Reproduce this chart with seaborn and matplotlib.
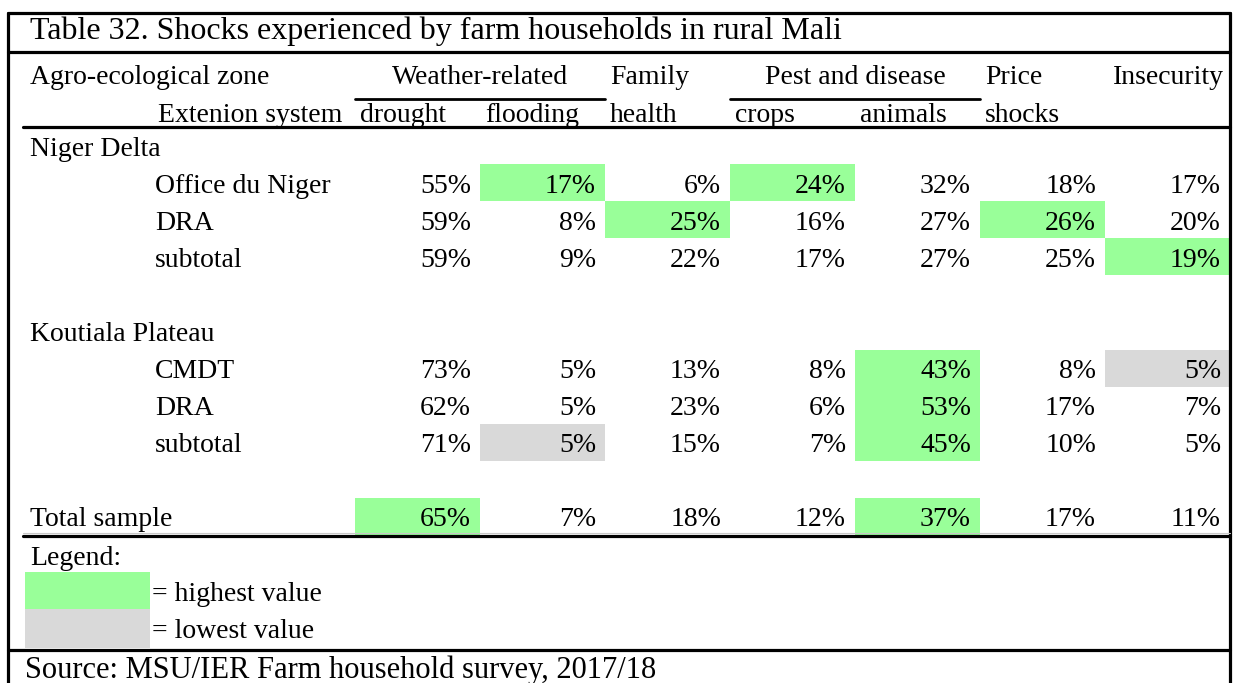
import numpy as np
import matplotlib
matplotlib.use("Agg")
import matplotlib.pyplot as plt
from matplotlib.colors import ListedColormap
from matplotlib.patches import Rectangle
import seaborn as sns

# Data (values in %)
title = "Table 32. Shocks experienced by farm households in rural Mali"
source = "Source: MSU/IER Farm household survey, 2017/18"

sub_cols = ["drought", "flooding", "health", "crops", "animals", "shocks", ""]
top_groups = [("Weather-related", 0, 2), ("Family", 2, 1), ("Pest and disease", 3, 2),
              ("Price", 5, 1), ("Insecurity", 6, 1)]

niger_rows = ["Office du Niger", "DRA", "subtotal"]
niger_vals = [[55, 17, 6, 24, 32, 18, 17],
              [59, 8, 25, 16, 27, 26, 20],
              [59, 9, 22, 17, 27, 25, 19]]
niger_mark = [[0, 1, 0, 1, 0, 0, 0],
              [0, 0, 1, 0, 0, 1, 0],
              [0, 0, 0, 0, 0, 0, 1]]

koutiala_rows = ["CMDT", "DRA", "subtotal"]
koutiala_vals = [[73, 5, 13, 8, 43, 8, 5],
                 [62, 5, 23, 6, 53, 17, 7],
                 [71, 5, 15, 7, 45, 10, 5]]
koutiala_mark = [[0, 0, 0, 0, 1, 0, -1],
                 [0, 0, 0, 0, 1, 0, 0],
                 [0, -1, 0, 0, 1, 0, 0]]

total_vals = [65, 7, 18, 12, 37, 17, 11]
total_mark = [1, 0, 0, 0, 1, 0, 0]

GREEN = "#99FF99"
GRAY = "#D9D9D9"

# build the table grid (group / blank rows have no values)
rows = [("Niger Delta", 0, None, None)]
rows += [(r, 1, v, m) for r, v, m in zip(niger_rows, niger_vals, niger_mark)]
rows += [("", 0, None, None), ("Koutiala Plateau", 0, None, None)]
rows += [(r, 1, v, m) for r, v, m in zip(koutiala_rows, koutiala_vals, koutiala_mark)]
rows += [("", 0, None, None), ("Total sample", 0, total_vals, total_mark)]

n_rows, n_cols = len(rows), len(sub_cols)
vals = np.full((n_rows, n_cols), np.nan)
marks = np.full((n_rows, n_cols), np.nan)
for i, (_, _, v, m) in enumerate(rows):
    if v is not None:
        vals[i] = v
        marks[i] = m

sns.set_theme(style="white")
plt.rcParams["font.family"] = ["Liberation Serif", "DejaVu Serif"]
plt.rcParams["text.color"] = "black"
FS = 20

W, H = 1233, 683
fig = plt.figure(figsize=(W / 100, H / 100), dpi=100)

# pixel layout of the numeric block
x0, x1 = 355, 1230
y0, y1 = 127, 535
col_w = (x1 - x0) / n_cols
row_h = (y1 - y0) / n_rows

hax = fig.add_axes([x0 / W, 1 - y1 / H, (x1 - x0) / W, (y1 - y0) / H])
sns.heatmap(marks, mask=np.isnan(vals), cmap=ListedColormap([GRAY, "#FFFFFF", GREEN]),
            vmin=-1.5, vmax=1.5, cbar=False, xticklabels=False, yticklabels=False,
            linewidths=0, ax=hax)
for i in range(n_rows):
    for j in range(n_cols):
        if not np.isnan(vals[i, j]):
            hax.text(j + 1 - 9 / col_w, i + 0.5 + 10 / row_h, f"{int(vals[i, j])}%",
                     ha="right", va="baseline", fontsize=FS, color="black")
hax.axis("off")

# overlay in pixel coordinates for lines and labels
bg = fig.add_axes([0, 0, 1, 1])
bg.set_xlim(0, W)
bg.set_ylim(H, 0)
bg.axis("off")

lw = 2.3
bg.plot([8, 8], [13, 700], color="black", lw=lw, clip_on=False)
bg.plot([1230, 1230], [13, 700], color="black", lw=lw, clip_on=False)
bg.plot([8, 1230], [13, 13], color="black", lw=lw)
bg.plot([8, 1230], [52, 52], color="black", lw=lw)
bg.plot([23, 1230], [127, 127], color="black", lw=lw)
bg.plot([23, 1230], [533, 533], color="#C8C8C8", lw=0.8)
bg.plot([23, 1230], [535.5, 535.5], color="black", lw=lw)
bg.plot([8, 1230], [650, 650], color="black", lw=lw)

bg.text(30, 39, title, fontsize=23, ha="left", va="baseline")

# header
bg.text(30, 84, "Agro-ecological zone", fontsize=FS, ha="left", va="baseline")
bg.text(158, 122, "Extenion system", fontsize=FS, ha="left", va="baseline")
for name, start, span in top_groups:
    left = x0 + start * col_w
    right = left + span * col_w
    if span > 1:
        bg.text((left + right) / 2, 84, name, fontsize=FS, ha="center", va="baseline")
        bg.plot([left, right], [99, 99], color="black", lw=2)
    elif name == "Insecurity":
        bg.text(right - 6, 84, name, fontsize=FS, ha="right", va="baseline")
    else:
        bg.text(left + 5, 84, name, fontsize=FS, ha="left", va="baseline")
for j, name in enumerate(sub_cols):
    bg.text(x0 + j * col_w + 5, 122, name, fontsize=FS, ha="left", va="baseline")

# row labels
for i, (label, indent, _, _) in enumerate(rows):
    cy = y0 + (i + 0.5) * row_h
    bg.text(155 if indent else 30, cy + 10, label, fontsize=FS, ha="left", va="baseline")

# legend
bg.text(30, 565, "Legend:", fontsize=FS, ha="left", va="baseline")
bg.add_patch(Rectangle((25, 572), 125, 37, color=GREEN, lw=0))
bg.add_patch(Rectangle((25, 609), 125, 39, color=GRAY, lw=0))
bg.text(152, 601, "= highest value", fontsize=FS, ha="left", va="baseline")
bg.text(152, 638, "= lowest value", fontsize=FS, ha="left", va="baseline")

bg.text(25, 678, source, fontsize=22, ha="left", va="baseline")

fig.savefig("out.png", dpi=100)
